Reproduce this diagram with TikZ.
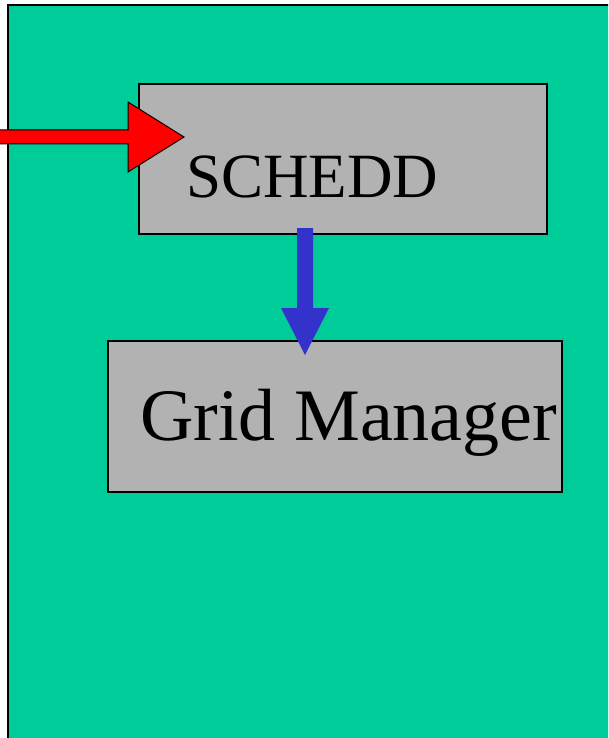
\documentclass[tikz,border=0pt]{standalone}
\usepackage{fontspec}
\setmainfont{Liberation Serif}
\begin{document}
\begin{tikzpicture}[x=1pt,y=-1pt,
  panel/.style={draw=black,line width=1.5pt,fill=tealgreen},
  procbox/.style={draw=black,line width=1.5pt,fill=boxgray,inner sep=0pt},
  label/.style={inner sep=0pt,anchor=base west,text=black}]
\definecolor{tealgreen}{HTML}{00CC99}
\definecolor{boxgray}{HTML}{B2B2B2}
\definecolor{flowblue}{HTML}{3333CC}
\useasboundingbox (0,0) rectangle (608,738);
\clip (0,0) rectangle (608,738);
% machine panel
\draw[panel] (8,5) rectangle (640,760);
% process boxes
\node[procbox,minimum width=408pt,minimum height=150pt] (schedd) at (343,159) {};
\node[procbox,minimum width=454pt,minimum height=151pt] (gridmgr) at (335,416.5) {};
\node[label,font=\fontsize{63}{70}\selectfont] (scheddtxt) at (186,197) {SCHEDD};
\node[label,font=\fontsize{74}{80}\selectfont] (gridtxt) at (140,440) {Grid Manager};
% incoming job submission arrow
\coordinate (src) at (-5,137);
\coordinate (tip) at (184,137);
\draw[fill=red,draw=black,line width=1pt,line join=miter]
  (src |- 0,130) -- (128,130) -- (128,102) -- (tip) -- (128,172) -- (128,144) -- (src |- 0,144);
% schedd to grid manager
\coordinate (bstart) at (305,228);
\coordinate (bend) at (305,355);
\fill[flowblue] ([xshift=-8pt]bstart) -- ([xshift=-8pt]bstart |- 0,308) -- (281,308)
  -- (bend) -- (329,308) -- ([xshift=8pt]bstart |- 0,308) -- ([xshift=8pt]bstart) -- cycle;
\end{tikzpicture}
\end{document}
